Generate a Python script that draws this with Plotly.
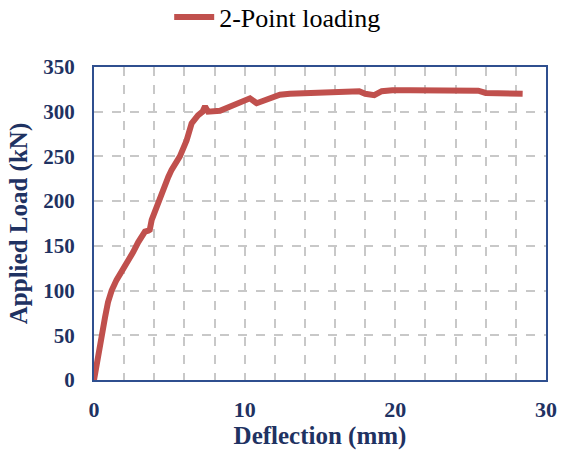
import plotly.graph_objects as go

# Load–deflection response, 2-point loading test
deflection_mm = [0, 0.18, 0.5, 0.73, 0.93, 1.17, 1.5, 1.84, 2.17, 2.6, 2.93, 3.16, 3.38, 3.6,
                 3.7, 3.83, 4.38, 4.93, 5.15, 5.57, 5.7, 6.15, 6.48, 6.9, 7.2, 7.37, 7.57, 8.36,
                 9.0, 9.9, 10.35, 10.8, 11.46, 12.34, 13.0, 14.0, 15.0, 16.0, 17.0, 17.6, 18.0,
                 18.6, 19.1, 19.8, 21.0, 22.0, 23.0, 24.0, 24.9, 25.5, 26.0, 26.5, 27.5, 28.45]
load_kN = [0, 19, 45, 70, 87, 100, 112, 121, 131, 143, 154, 162, 166, 167,
           168, 179, 205, 227, 235, 246, 250, 268, 287, 296, 300, 306, 300, 301,
           306, 312.5, 315, 309.5, 313, 319, 320, 321, 322, 323, 323.5, 323, 320,
           318.5, 323, 324, 324, 324, 323, 323, 324.5, 323.5, 321, 320.5, 320.5, 320]

series_name = "2-Point loading"
x_ticks = [0, 10, 20, 30]
y_ticks = [0, 50, 100, 150, 200, 250, 300, 350]

navy = "#1F3262"
frame = "#2F4F8F"
grid = "#C8C8C8"
serif = "Liberation Serif, Times New Roman, serif"

fig = go.Figure()
fig.add_trace(go.Scatter(
    x=deflection_mm, y=load_kN, mode="lines", name=series_name,
    line=dict(color="#C0504D", width=6),
))

fig.update_layout(
    width=561, height=450,
    margin=dict(l=94, r=15, t=67, b=70, autoexpand=False),
    paper_bgcolor="white", plot_bgcolor="white",
    showlegend=True,
    legend=dict(orientation="h", x=0.495, xanchor="center", xref="container",
                y=1 - 17 / 450, yanchor="middle", yref="container",
                font=dict(family=serif, size=26, color="black"),
                itemwidth=40, bgcolor="rgba(0,0,0,0)"),
    xaxis=dict(
        range=[0, 30], tickvals=x_ticks, ticks="", showline=True, mirror=True,
        linecolor=frame, linewidth=2,
        showgrid=True, gridcolor=grid, griddash="dash", gridwidth=1.5,
        minor=dict(dtick=2, showgrid=True, gridcolor=grid, griddash="dash", gridwidth=1.5),
        tickfont=dict(family=serif, size=22, color=navy, weight="bold"),
        title=dict(text="Deflection (mm)", standoff=0,
                   font=dict(family=serif, size=25, color=navy, weight="bold")),
        zeroline=False, ticklabelstandoff=9,
    ),
    yaxis=dict(
        range=[0, 350], tickvals=y_ticks, ticks="", showline=True, mirror=True,
        linecolor=frame, linewidth=2,
        showgrid=True, gridcolor=grid, griddash="dash", gridwidth=1.5,
        tickfont=dict(family=serif, size=21, color=navy, weight="bold"),
        title=dict(text="Applied Load (kN)", standoff=9,
                   font=dict(family=serif, size=25, color=navy, weight="bold")),
        zeroline=False, ticklabelstandoff=13,
    ),
)

fig.write_html("out.html")
